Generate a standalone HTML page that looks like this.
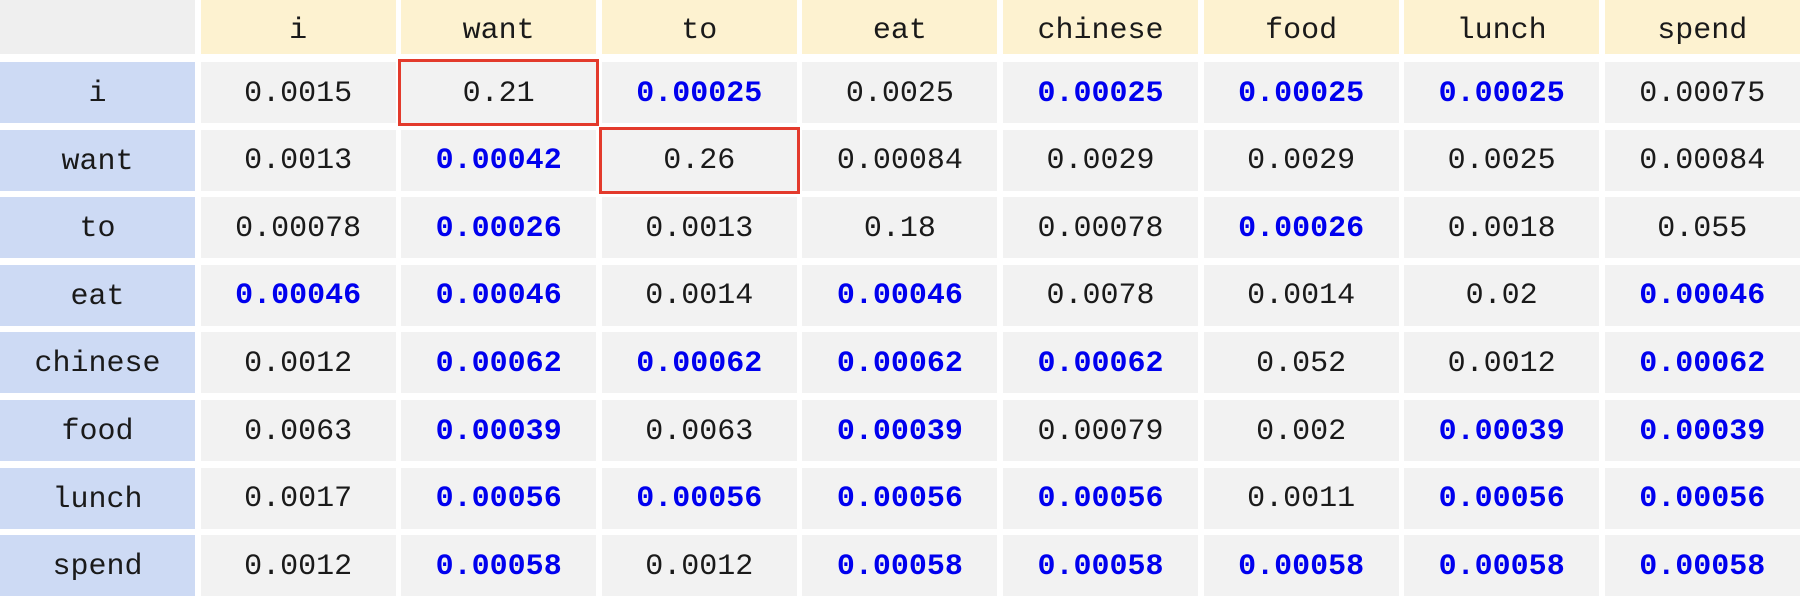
<!DOCTYPE html>
<html><head><meta charset="utf-8">
<style>
html,body{margin:0;padding:0;background:#fff;}
#chart{position:relative;width:1802px;height:596px;overflow:hidden;font-family:"Liberation Mono","DejaVu Sans Mono",monospace;}
.c{position:absolute;display:flex;align-items:center;justify-content:center;font-size:30px;color:#1a1a1a;box-sizing:border-box;}
.hl{position:absolute;border:3px solid #e33a2c;box-sizing:border-box;}
</style></head>
<body>
<div id="chart"></div>
<script>
const words = ["i","want","to","eat","chinese","food","lunch","spend"];
const row_i = [0.0015,0.21,0.00025,0.0025,0.00025,0.00025,0.00025,0.00075];
const row_want = [0.0013,0.00042,0.26,0.00084,0.0029,0.0029,0.0025,0.00084];
const row_to = [0.00078,0.00026,0.0013,0.18,0.00078,0.00026,0.0018,0.055];
const row_eat = [0.00046,0.00046,0.0014,0.00046,0.0078,0.0014,0.02,0.00046];
const row_chinese = [0.0012,0.00062,0.00062,0.00062,0.00062,0.052,0.0012,0.00062];
const row_food = [0.0063,0.00039,0.0063,0.00039,0.00079,0.002,0.00039,0.00039];
const row_lunch = [0.0017,0.00056,0.00056,0.00056,0.00056,0.0011,0.00056,0.00056];
const row_spend = [0.0012,0.00058,0.0012,0.00058,0.00058,0.00058,0.00058,0.00058];
const rows = [row_i,row_want,row_to,row_eat,row_chinese,row_food,row_lunch,row_spend];
const highlights = [[0,1],[1,2]];

const chart = document.getElementById('chart');
const colPitch = 200.6, colW = 195;
const headH = 54, rowTop0 = 62, rowPitch = 67.6, rowH = 61;
const cx = j => j*colPitch;
const ry = i => rowTop0 + i*rowPitch;
function cell(x,y,w,h,bg,text){
  const d=document.createElement('div');
  d.className='c';
  d.style.left=x+'px';d.style.top=y+'px';d.style.width=w+'px';d.style.height=h+'px';
  d.style.background=bg;
  d.textContent=text;
  chart.appendChild(d);
  return d;
}
const corner = cell(0,0,colW,headH,'#efefef','');


words.forEach((w,j)=>{
  const h = cell(cx(j+1),0,colW,headH,'#fdf2d0',w);
  h.style.paddingTop='8px';
  
  
});
rows.forEach((vals,i)=>{
  const rh = cell(0,ry(i),colW,rowH,'#cddaf4',words[i]);
  rh.style.paddingTop='3px';
  
  
  const mn = Math.min(...vals);
  vals.forEach((v,j)=>{
    const d = cell(cx(j+1),ry(i),colW,rowH,'#f2f2f2',String(v));
    d.style.paddingTop='2px';
    
    
    if(v===mn){d.style.color='#0000ee';d.style.fontWeight='bold';}
  });
});
highlights.forEach(([i,j])=>{
  const b=document.createElement('div');
  b.className='hl';
  b.style.left=(cx(j+1)-3)+'px';b.style.top=(ry(i)-3)+'px';
  b.style.width=(colW+6)+'px';b.style.height=(rowH+6)+'px';
  
  
  chart.appendChild(b);
});
</script>
</body></html>
